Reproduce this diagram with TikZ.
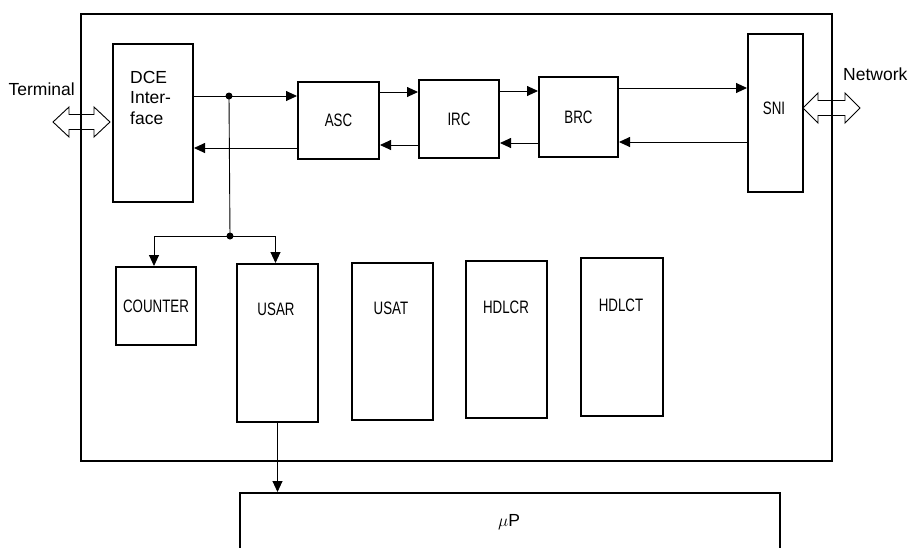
\documentclass[tikz,border=0pt]{standalone}
\usepackage{fontspec}
\setmainfont{Liberation Sans}
\newfontfamily\capsf[FakeStretch=0.74]{Liberation Sans}
\usetikzlibrary{arrows.meta}
\begin{document}
\begin{tikzpicture}[x=1pt,y=-1pt,
  blk/.style={draw, line width=2pt, inner sep=0pt, anchor=north west,
    font=\capsf\fontsize{18}{20}\selectfont},
  lbl/.style={inner sep=0pt, font=\capsf\fontsize{18}{20}\selectfont},
  txt/.style={inner sep=0pt, font=\fontsize{17.5}{20.5}\selectfont},
  conn/.style={line width=0.9pt},
  arr/.style={conn, -{Triangle[length=11pt,width=10pt]}},
  dotn/.style={circle, fill, inner sep=0pt, minimum size=7pt}]
\useasboundingbox (0,0) rectangle (914,547);
\clip (0,0) rectangle (914,547);

% outer frame
\node[draw, line width=2.4pt, anchor=north west, minimum width=751pt, minimum height=447pt, inner sep=0pt] (outer) at (80,13) {};

% blocks
\node[blk, minimum width=80pt, minimum height=158pt] (dce) at (112,43) {};
\node[txt, anchor=north west, align=left] (dcelbl) at (130,71) {DCE\\Inter-\\face};
\node[blk, minimum width=81pt, minimum height=77pt] (asc) at (297,81) {ASC};
\node[blk, minimum width=80pt, minimum height=78pt] (irc) at (418,79) {IRC};
\node[blk, minimum width=79pt, minimum height=80pt] (brc) at (538,76) {BRC};
\node[blk, minimum width=55pt, minimum height=158pt] (sni) at (747,33) {};
\node[lbl] (snilbl) at (774,108) {SNI};

\node[blk, minimum width=80pt, minimum height=78pt] (counter) at (115,266) {COUNTER};
\node[blk, minimum width=81pt, minimum height=158pt] (usar) at (236,263) {};
\node[lbl] (usarlbl) at (276,309) {USAR};
\node[blk, minimum width=81pt, minimum height=157pt] (usat) at (351,262) {};
\node[lbl] (usatlbl) at (391,308) {USAT};
\node[blk, minimum width=81pt, minimum height=157pt] (hdlcr) at (465,260) {};
\node[lbl] (hdlcrlbl) at (506,307) {HDLCR};
\node[blk, minimum width=82pt, minimum height=158pt] (hdlct) at (580,257) {};
\node[lbl] (hdlctlbl) at (621,305) {HDLCT};

\node[blk, minimum width=540pt, minimum height=62pt] (mup) at (239,492) {};
\node[txt] (muplbl) at (509,522) {$\mu$P};

% external labels
\node[txt, anchor=base east] (term) at (75,95) {Terminal};
\node[txt, anchor=base west] (net) at (843,80) {Network};

% double arrows
\coordinate (ta) at (53,122);
\draw[conn] (ta) -- ++(16,-15) -- ++(0,7.5) -- ++(25,0) -- ++(0,-7.5) -- ++(16,15)
  -- ++(-16,15) -- ++(0,-7.5) -- ++(-25,0) -- ++(0,7.5) -- cycle;
\coordinate (na) at (803,108);
\draw[conn] (na) -- ++(15,-15) -- ++(0,7.5) -- ++(27,0) -- ++(0,-7.5) -- ++(15,15)
  -- ++(-15,15) -- ++(0,-7.5) -- ++(-27,0) -- ++(0,7.5) -- cycle;

% junctions
\node[dotn] (j1) at (229,96) {};
\node[dotn] (j2) at (230,236) {};

% connectors upper chain
\draw[conn] (j1 -| dce.east) -- (j1.center);
\draw[arr] (j1.center) -- (j1 -| asc.west);
\draw[arr] (asc.west |- 0,148) -- (dce.east |- 0,148);
\draw[arr] (asc.east |- 0,92) -- (irc.west |- 0,92);
\draw[arr] (irc.west |- 0,145) -- (asc.east |- 0,145);
\draw[arr] (irc.east |- 0,91) -- (brc.west |- 0,91);
\draw[arr] (brc.west |- 0,143) -- (irc.east |- 0,143);
\draw[arr] (brc.east |- 0,88) -- (sni.west |- 0,88);
\draw[arr] (sni.west |- 0,142) -- (brc.east |- 0,142);

% down to counter / usar
\draw[conn] (j1.center) -- (j2.center);
\draw[arr] (j2.center) -| ([xshift=-2pt]counter.north);
\draw[arr] (j2.center) -| ([xshift=-2pt]usar.north);

% USAR to microprocessor
\draw[arr] (usar.south) -- (usar.south |- mup.north);
\end{tikzpicture}
\end{document}
